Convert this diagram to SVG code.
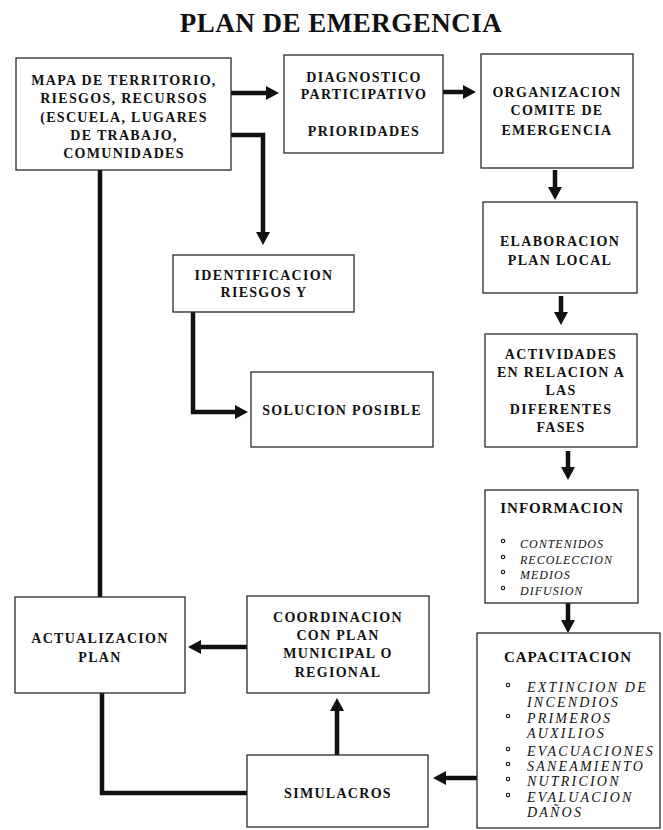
<svg xmlns="http://www.w3.org/2000/svg" width="663" height="830" viewBox="0 0 663 830">
<style>
.box{fill:#fff;stroke:#2a2a2a;stroke-width:1.3}
.t{font-family:"Liberation Serif","Times New Roman",serif;font-weight:bold;font-size:14px;letter-spacing:1.3px;text-anchor:middle;fill:#111}
.h{font-size:15px;letter-spacing:1px}
.ttl{font-size:27px;letter-spacing:0.5px}
.i{font-family:"Liberation Serif","Times New Roman",serif;font-style:italic;fill:#111}
.ii{font-size:12px;letter-spacing:1px}
.ci{font-size:14px;letter-spacing:2.2px}
.c{fill:none;stroke:#111;stroke-width:4.5}
.bl{fill:none;stroke:#111;stroke-width:1.1}
</style>
<defs>
<marker id="ah" markerUnits="userSpaceOnUse" markerWidth="13" markerHeight="14" refX="1" refY="7" orient="auto"><path d="M0,0 L13,7 L0,14 z" fill="#111"/></marker>
</defs>
<rect width="663" height="830" fill="#fff"/>
<text class="t ttl" x="341" y="32">PLAN DE EMERGENCIA</text>

<g id="connectors">
<path class="c" d="M231,93 H267" marker-end="url(#ah)"/>
<path class="c" d="M443,92 H464" marker-end="url(#ah)"/>
<path class="c" d="M231,135 H263 V233" marker-end="url(#ah)"/>
<path class="c" d="M555,170 V188" marker-end="url(#ah)"/>
<path class="c" d="M561,296 V313" marker-end="url(#ah)"/>
<path class="c" d="M568,451 V468" marker-end="url(#ah)"/>
<path class="c" d="M568,603 V621" marker-end="url(#ah)"/>
<path class="c" d="M477,778 H445" marker-end="url(#ah)"/>
<path class="c" d="M337,755 V710" marker-end="url(#ah)"/>
<path class="c" d="M247,647 H200" marker-end="url(#ah)"/>
<path class="c" d="M100,170 V597"/>
<path class="c" d="M102,693 V793 H247"/>
<path class="c" d="M193,312 V412 H236" marker-end="url(#ah)"/>
</g>

<g id="mapa">
<rect class="box" x="16" y="58" width="215" height="112"/>
<text class="t" x="124" y="85">MAPA DE TERRITORIO,</text>
<text class="t" x="124" y="103">RIESGOS, RECURSOS</text>
<text class="t" x="124" y="122">(ESCUELA, LUGARES</text>
<text class="t" x="124" y="140">DE TRABAJO,</text>
<text class="t" x="124" y="158">COMUNIDADES</text>
</g>

<g id="diagnostico">
<rect class="box" x="284" y="55" width="159" height="98"/>
<text class="t" x="364" y="82">DIAGNOSTICO</text>
<text class="t" x="364" y="99">PARTICIPATIVO</text>
<text class="t" x="364" y="136">PRIORIDADES</text>
</g>

<g id="organizacion">
<rect class="box" x="481" y="54" width="152" height="114"/>
<text class="t" x="557" y="97">ORGANIZACION</text>
<text class="t" x="557" y="115">COMITE DE</text>
<text class="t" x="557" y="135">EMERGENCIA</text>
</g>

<g id="elaboracion">
<rect class="box" x="483" y="202" width="154" height="91"/>
<text class="t" x="560" y="246">ELABORACION</text>
<text class="t" x="560" y="265">PLAN LOCAL</text>
</g>

<g id="identificacion">
<rect class="box" x="173" y="255" width="181" height="57"/>
<text class="t" x="264" y="280">IDENTIFICACION</text>
<text class="t" x="264" y="297">RIESGOS Y</text>
</g>

<g id="solucion">
<rect class="box" x="251" y="372" width="182" height="75"/>
<text class="t" x="342" y="415">SOLUCION POSIBLE</text>
</g>

<g id="actividades">
<rect class="box" x="485" y="334" width="152" height="113"/>
<text class="t" x="561" y="359">ACTIVIDADES</text>
<text class="t" x="561" y="377">EN RELACION A</text>
<text class="t" x="561" y="395">LAS</text>
<text class="t" x="561" y="414">DIFERENTES</text>
<text class="t" x="561" y="432">FASES</text>
</g>

<g id="informacion">
<rect class="box" x="485" y="490" width="153" height="113"/>
<text class="t h" x="562" y="513">INFORMACION</text>
<circle class="bl" cx="503" cy="541" r="1.7"/>
<circle class="bl" cx="503" cy="557" r="1.7"/>
<circle class="bl" cx="503" cy="572" r="1.7"/>
<circle class="bl" cx="503" cy="588" r="1.7"/>
<text class="i ii" x="520" y="548">CONTENIDOS</text>
<text class="i ii" x="520" y="564">RECOLECCION</text>
<text class="i ii" x="520" y="579">MEDIOS</text>
<text class="i ii" x="520" y="595">DIFUSION</text>
</g>

<g id="capacitacion">
<rect class="box" x="477" y="633" width="183" height="195"/>
<text class="t h" x="568" y="662">CAPACITACION</text>
<circle class="bl" cx="508" cy="685" r="1.7"/>
<circle class="bl" cx="508" cy="716" r="1.7"/>
<circle class="bl" cx="508" cy="749" r="1.7"/>
<circle class="bl" cx="508" cy="764" r="1.7"/>
<circle class="bl" cx="508" cy="779" r="1.7"/>
<circle class="bl" cx="508" cy="795" r="1.7"/>
<text class="i ci" x="527" y="692">EXTINCION DE</text>
<text class="i ci" x="527" y="707">INCENDIOS</text>
<text class="i ci" x="527" y="723">PRIMEROS</text>
<text class="i ci" x="527" y="738">AUXILIOS</text>
<text class="i ci" x="527" y="756">EVACUACIONES</text>
<text class="i ci" x="527" y="771">SANEAMIENTO</text>
<text class="i ci" x="527" y="786">NUTRICION</text>
<text class="i ci" x="527" y="802">EVALUACION</text>
<text class="i ci" x="527" y="817">DAÑOS</text>
</g>

<g id="actualizacion">
<rect class="box" x="15" y="597" width="170" height="96"/>
<text class="t" x="100" y="643">ACTUALIZACION</text>
<text class="t" x="100" y="662">PLAN</text>
</g>

<g id="coordinacion">
<rect class="box" x="247" y="596" width="182" height="97"/>
<text class="t" x="338" y="622">COORDINACION</text>
<text class="t" x="338" y="640">CON PLAN</text>
<text class="t" x="338" y="658">MUNICIPAL O</text>
<text class="t" x="338" y="677">REGIONAL</text>
</g>

<g id="simulacros">
<rect class="box" x="247" y="755" width="181" height="72"/>
<text class="t" x="338" y="798">SIMULACROS</text>
</g>
</svg>
